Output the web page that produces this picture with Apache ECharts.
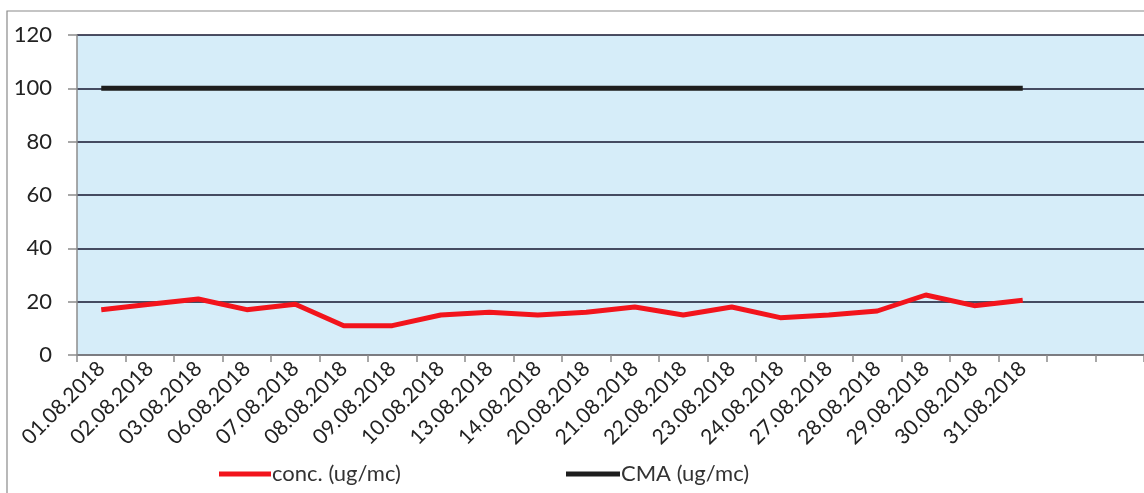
<!DOCTYPE html>
<html>
<head>
<meta charset="utf-8">
<script src="https://cdn.jsdelivr.net/npm/echarts@6/dist/echarts.min.js"></script>
<style>html,body{margin:0;padding:0;background:#fff;}#c{width:1144px;height:493px;}</style>
</head>
<body>
<div id="c"></div>
<script>
const categories = ['01.08.2018','02.08.2018','03.08.2018','06.08.2018','07.08.2018','08.08.2018','09.08.2018','10.08.2018','13.08.2018','14.08.2018','20.08.2018','21.08.2018','22.08.2018','23.08.2018','24.08.2018','27.08.2018','28.08.2018','29.08.2018','30.08.2018','31.08.2018'];
const emptySlots = ['', ''];
const conc = [17, 19, 21, 17, 19, 11, 11, 15, 16, 15, 16, 18, 15, 18, 14, 15, 16.5, 22.5, 18.5, 20.5];
const cma = [100,100,100,100,100,100,100,100,100,100,100,100,100,100,100,100,100,100,100,100];
const yTicks = {min: 0, max: 120, interval: 20};

const FONT = 'Lato, "Open Sans", sans-serif';
const chart = echarts.init(document.getElementById('c'));
chart.setOption({
  animation: false,
  backgroundColor: '#ffffff',
  graphic: [{
    type: 'rect', shape: {x: 7, y: 11, width: 1160, height: 500},
    style: {fill: 'none', stroke: '#8a8a8a', lineWidth: 1.2}, z: -10
  }],
  grid: {left: 77, right: -2, top: 35, bottom: 138, show: true, backgroundColor: '#d6edf9', borderWidth: 0},
  legend: [{
    data: ['conc. (ug/mc)'], left: 214, top: 458, icon: 'rect', itemWidth: 52, itemHeight: 5, itemGap: 0,
    textStyle: {fontFamily: FONT, fontSize: 22, color: '#333', padding: [0,0,0,-4]}
  }, {
    data: ['CMA (ug/mc)'], left: 561, top: 458, icon: 'rect', itemWidth: 54, itemHeight: 5, itemGap: 0,
    textStyle: {fontFamily: FONT, fontSize: 22, color: '#333', padding: [0,0,0,-4]}
  }],
  xAxis: {
    type: 'category', boundaryGap: true,
    data: categories.concat(emptySlots),
    axisLine: {lineStyle: {color: '#8c8c8c', width: 1.5}},
    axisTick: {show: true, length: 7, interval: 0, lineStyle: {color: '#8c8c8c', width: 1.5}},
    axisLabel: {interval: 0, rotate: 45, fontFamily: FONT, fontSize: 21, color: '#222', margin: 10}
  },
  yAxis: {
    type: 'value', min: yTicks.min, max: yTicks.max, interval: yTicks.interval,
    axisLine: {show: true, lineStyle: {color: '#8c8c8c', width: 1.5}},
    axisTick: {show: true, length: 9, lineStyle: {color: '#8c8c8c', width: 1.5}},
    axisLabel: {fontFamily: FONT, fontSize: 22, color: '#222', margin: 25},
    splitLine: {lineStyle: {color: '#15152e', width: 1.5}}
  },
  series: [{
    name: 'conc. (ug/mc)', type: 'line', data: conc, symbol: 'none',
    itemStyle: {color: '#f2141c'}, lineStyle: {color: '#f2141c', width: 5}, z: 3
  }, {
    name: 'CMA (ug/mc)', type: 'line', data: cma, symbol: 'none',
    itemStyle: {color: '#1e1e1e'}, lineStyle: {color: '#1e1e1e', width: 5}, z: 2
  }]
});
</script>
</body>
</html>
